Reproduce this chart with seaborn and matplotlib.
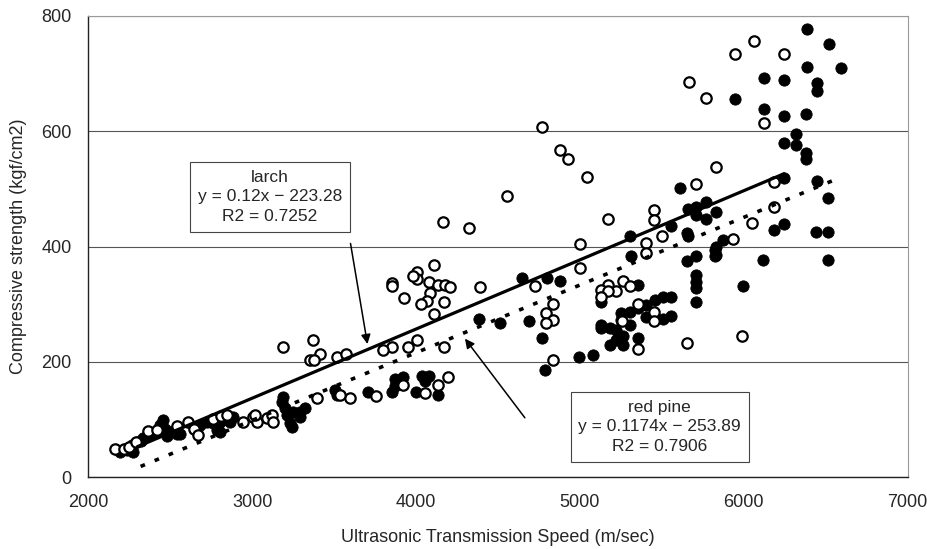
import matplotlib
matplotlib.use("Agg")
import matplotlib.pyplot as plt
import numpy as np
import pandas as pd
import seaborn as sns

# larch (open circles)
larch_speed = [
    6060, 5945, 6246, 5665, 5772, 6122, 5829, 5711, 6185, 5451, 5451, 6185,
    6053, 5504, 5406, 5935, 5000, 5406, 5000, 5264, 5305, 5173, 5128, 5220,
    5173, 5128, 4837, 4796, 4837, 4796, 5356, 5453, 5260, 5453, 5356, 5656,
    5991, 4837, 4770, 4882, 4927, 5045, 4553, 4323, 5171, 4167, 4112, 4008,
    4008, 3852, 3852, 4081, 4136, 4177, 4207, 4390, 4085, 3927, 4065, 4028,
    4173, 4112, 4726, 4004, 3953, 3852, 3800, 4171, 3516, 3573, 4197, 4136,
    3923, 4055, 3756, 3598, 3537, 3191, 3370, 3415, 3354, 3375, 3394, 3984,
    2947, 3008, 3028, 3089, 3120, 3130, 2612, 2643, 2673, 2368, 2165, 2216,
    2250, 2290, 2420, 2540, 2760, 2810, 2850, 3018,
]
larch_strength = [
    757, 734, 734, 686, 657, 614, 538, 509, 512, 464, 446, 468,
    440, 418, 406, 413, 404, 388, 363, 340, 332, 333, 325, 322,
    322, 313, 300, 284, 273, 267, 300, 287, 270, 270, 223, 232,
    244, 203, 608, 568, 552, 521, 487, 432, 448, 443, 368, 356,
    343, 337, 332, 339, 334, 334, 330, 329, 320, 311, 306, 300,
    303, 283, 332, 238, 226, 226, 220, 226, 209, 214, 173, 160,
    160, 146, 141, 138, 142, 226, 238, 214, 203, 203, 138, 348,
    96, 105, 96, 102, 108, 96, 95, 83, 73, 80, 49, 49,
    52, 60, 82, 88, 100, 106, 108, 108,
]

# red pine (filled circles)
pine_speed = [
    6388, 6520, 6386, 6591, 6124, 6246, 6449, 6449, 5945, 6122, 6246, 6382,
    6317, 6246, 6317, 6382, 6382, 6246, 6449, 6516, 5610, 5661, 5711, 5768,
    5711, 5768, 5829, 5559, 5661, 6185, 6246, 6443, 6516, 5874, 5833, 5315,
    5656, 5707, 5823, 5823, 6118, 5707, 5707, 5707, 5707, 5996, 4797, 4878,
    5356, 5128, 5559, 5508, 5457, 5406, 5356, 5305, 5254, 5406, 5559, 5508,
    5305, 5254, 5128, 5128, 5183, 5223, 5264, 5223, 5183, 5264, 5356, 4772,
    5081, 4996, 4787, 5309, 5654, 5833, 6514, 4650, 4386, 4512, 4691, 3923,
    3872, 4034, 4081, 4055, 3872, 3852, 4000, 4136, 3709, 3506, 3516, 3191,
    3181, 3201, 3211, 3232, 3252, 3293, 3323, 3293, 3242, 2459, 2439, 2470,
    2419, 2500, 2540, 2560, 2378, 2337, 2297, 2266, 2236, 2195, 2276, 2723,
    2764, 2805, 2784, 2845, 2886, 2866, 2683, 2250, 2320, 2480, 2805,
]
pine_strength = [
    777, 752, 712, 709, 692, 688, 683, 669, 656, 638, 627, 630,
    595, 579, 576, 563, 552, 519, 514, 485, 501, 465, 469, 478,
    455, 447, 459, 436, 418, 429, 439, 426, 426, 411, 399, 383,
    374, 383, 394, 383, 376, 351, 339, 328, 303, 332, 345, 340,
    333, 304, 313, 313, 307, 299, 293, 287, 284, 278, 280, 275,
    264, 273, 264, 258, 258, 255, 244, 238, 229, 229, 241, 241,
    212, 208, 186, 418, 423, 386, 376, 345, 274, 268, 271, 174,
    171, 175, 175, 166, 158, 148, 148, 142, 148, 151, 142, 139,
    131, 119, 108, 93, 113, 113, 119, 105, 87, 99, 90, 84,
    79, 79, 74, 74, 73, 67, 61, 56, 47, 44, 44, 96,
    93, 96, 82, 102, 105, 96, 90, 50, 62, 72, 79,
]

# trendlines as printed on the chart
larch_fit = (0.12, -223.28)
pine_fit = (0.1174, -253.89)
larch_fit_range = [2300, 6246]
pine_fit_range = [2320, 6591]

x_ticks = [2000, 3000, 4000, 5000, 6000, 7000]
y_ticks = [0, 200, 400, 600, 800]

sns.set_style("white")
plt.rcParams["font.family"] = ["Liberation Sans", "DejaVu Sans"]

df = pd.concat([
    pd.DataFrame({"speed": larch_speed, "strength": larch_strength, "species": "larch"}),
    pd.DataFrame({"speed": pine_speed, "strength": pine_strength, "species": "red pine"}),
])

fig, ax = plt.subplots(figsize=(9.28, 5.49), dpi=100)
fig.subplots_adjust(left=0.095, right=0.978, top=0.971, bottom=0.131)

ax.yaxis.grid(True, color="#555555", linewidth=0.8)
ax.set_axisbelow(True)

sns.scatterplot(
    data=df[df.species == "red pine"], x="speed", y="strength",
    color="black", edgecolor="black", s=66, linewidth=0.6, ax=ax, zorder=3,
)
sns.scatterplot(
    data=df[df.species == "larch"], x="speed", y="strength",
    facecolor="white", edgecolor="black", s=56, linewidth=1.6, ax=ax, zorder=4,
)

lx = np.array(larch_fit_range)
ax.plot(lx, larch_fit[0] * lx + larch_fit[1], color="black", lw=2.3, zorder=5)
px = np.array(pine_fit_range)
ax.plot(px, pine_fit[0] * px + pine_fit[1], color="black", lw=2.6,
        linestyle=(0, (1.3, 2.9)), zorder=5)

box = dict(boxstyle="square,pad=0.45", facecolor="white", edgecolor="#444444", linewidth=0.8)
ax.text(3110, 486, "larch\ny = 0.12x \u2212 223.28\nR2 = 0.7252",
        ha="center", va="center", fontsize=12.5, linespacing=1.4, bbox=box, zorder=6)
ax.text(5488, 87, "red pine\ny = 0.1174x \u2212 253.89\nR2 = 0.7906",
        ha="center", va="center", fontsize=12.5, linespacing=1.4, bbox=box, zorder=6)

arrow = dict(arrowstyle="-|>", color="black", lw=1.1, mutation_scale=14)
ax.annotate("", xy=(3707, 226), xytext=(3598, 410), arrowprops=arrow, zorder=6)
ax.annotate("", xy=(4289, 244), xytext=(4675, 99), arrowprops=arrow, zorder=6)

ax.set_xlim(2000, 7000)
ax.set_ylim(0, 800)
ax.set_xticks(x_ticks)
ax.set_yticks(y_ticks)
ax.tick_params(labelsize=13, direction="in", length=3, color="#555555", pad=12)
ax.set_xlabel("Ultrasonic Transmission Speed (m/sec)", fontsize=13, labelpad=13)
ax.set_ylabel("Compressive strength (kgf/cm2)", fontsize=13, labelpad=10)

for side in ["left", "bottom"]:
    ax.spines[side].set_color("#222222")
    ax.spines[side].set_linewidth(1.0)
for side in ["top", "right"]:
    ax.spines[side].set_color("#999999")
    ax.spines[side].set_linewidth(0.8)

fig.savefig("out.png", dpi=100)
